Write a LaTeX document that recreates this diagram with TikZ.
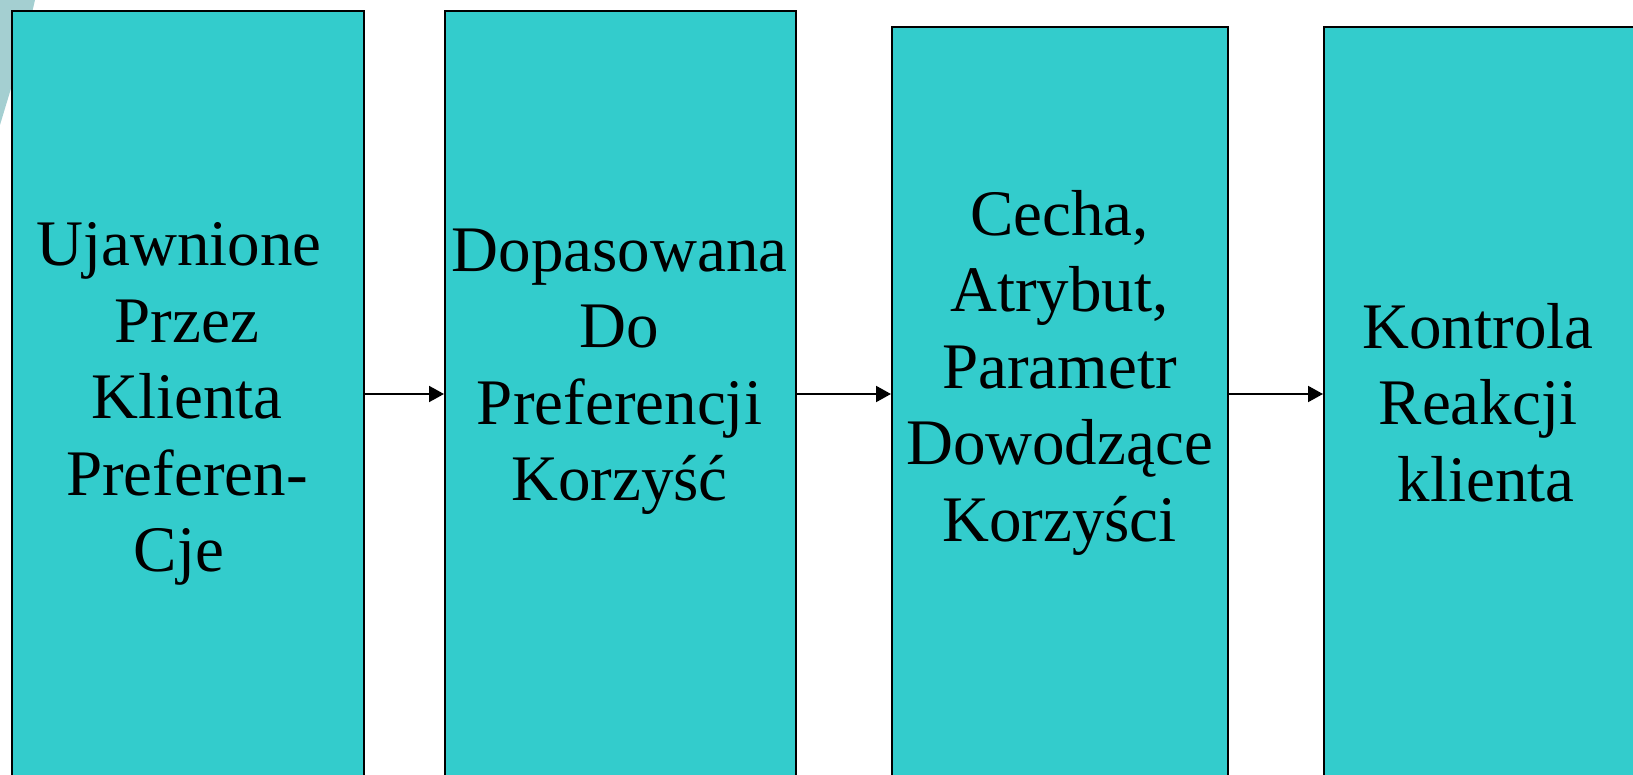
\documentclass[tikz,border=0pt]{standalone}
\usepackage{fontspec}
\setmainfont{Liberation Serif}
\usetikzlibrary{arrows.meta}
\definecolor{boxfill}{RGB}{51,204,204}
\definecolor{paleshape}{RGB}{164,207,209}
\tikzset{
  stage/.style={draw=black, line width=2pt, fill=boxfill, rectangle,
    inner sep=0pt, anchor=north west},
  stagetext/.style={align=center, anchor=north, inner sep=0pt,
    font=\fontsize{65}{76.5}\selectfont},
  flow/.style={line width=2pt, -{Triangle[length=15pt,width=16pt]}}
}
\begin{document}
\begin{tikzpicture}[x=1pt, y=-1pt]
  \useasboundingbox (0,0) rectangle (1633,775);
  \clip (0,0) rectangle (1633,775);

  % pale backdrop curve in the corner
  \fill[paleshape] (0,0) -- (35,0) .. controls (26,40) and (12,85) .. (0,125) -- cycle;

  % the four stages
  \node[stage, minimum width=352pt, minimum height=820pt] (b1) at (11,10) {};
  \node[stage, minimum width=351pt, minimum height=820pt] (b2) at (444,10) {};
  \node[stage, minimum width=336pt, minimum height=820pt] (b3) at (891,26) {};
  \node[stage, minimum width=340pt, minimum height=820pt] (b4) at (1323,26) {};

  % stage labels (first baseline 50pt below the node's top)
  \node[stagetext] (t1) at (187,215.7)
    {\rule{0pt}{50pt}Ujawnione\hspace*{16pt}\\ Przez\\ Klienta\hspace*{16pt}\\ Preferen-\\ Cje\hspace*{16pt}};
  \node[stagetext] (t2) at (619.5,221)
    {\rule{0pt}{50pt}Dopasowana\\ Do\\ Preferencji\\ Korzyść};
  \node[stagetext] (t3) at (1059.5,185)
    {\rule{0pt}{50pt}Cecha,\\ Atrybut,\\ Parametr\\ Dowodzące\\ Korzyści};
  \node[stagetext] (t4) at (1478,298)
    {\rule{0pt}{50pt}Kontrola\\ Reakcji\\ \hspace*{16pt}klienta};

  % connectors
  \coordinate (row) at (0,394);
  \draw[flow] (b1.east |- row) -- (b2.west |- row);
  \draw[flow] (b2.east |- row) -- (b3.west |- row);
  \draw[flow] (b3.east |- row) -- (b4.west |- row);
\end{tikzpicture}
\end{document}
